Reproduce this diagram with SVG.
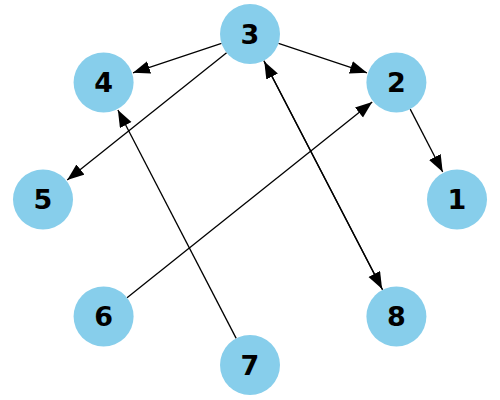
<svg xmlns="http://www.w3.org/2000/svg" width="500" height="400" viewBox="0 0 500 400">
<defs>
<marker id="ah" markerUnits="userSpaceOnUse" markerWidth="19" markerHeight="15" refX="17" refY="6.5" orient="auto">
<path d="M0,0 L17,6.5 L0,13 z" fill="#000"/>
</marker>
<style>
.e{stroke:#000;stroke-width:1.3;fill:none;marker-end:url(#ah)}
.n circle{fill:#87CEEB}
.n text{font-family:"DejaVu Sans",sans-serif;font-weight:bold;font-size:27px;fill:#000;text-anchor:middle;dominant-baseline:central}
</style>
</defs>
<rect width="500" height="400" fill="#fff"/>
<g id="edges">
<line class="e" x1="221.5" y1="43.4" x2="133.0" y2="72.8"/>
<line class="e" x1="278.5" y1="43.4" x2="367.0" y2="72.8"/>
<line class="e" x1="226.6" y1="52.7" x2="67.2" y2="180.1"/>
<line class="e" x1="410.2" y1="109.1" x2="442.7" y2="172.0"/>
<line class="e" x1="127.0" y1="297.8" x2="372.2" y2="101.9"/>
<line class="e" x1="236.2" y1="338.4" x2="117.9" y2="110.0"/>
<line class="e" x1="263.8" y1="60.6" x2="382.1" y2="289.0"/>
<line class="e" x1="382.6" y1="289.9" x2="264.3" y2="61.5"/>
</g>
<g id="n1" class="n"><circle cx="457" cy="199.5" r="30"/><text x="457" y="199.5">1</text></g>
<g id="n2" class="n"><circle cx="396.4" cy="82.5" r="30"/><text x="396.4" y="82.5">2</text></g>
<g id="n3" class="n"><circle cx="250" cy="34" r="30"/><text x="250" y="34">3</text></g>
<g id="n4" class="n"><circle cx="103.6" cy="82.5" r="30"/><text x="103.6" y="82.5">4</text></g>
<g id="n5" class="n"><circle cx="43" cy="199.5" r="30"/><text x="43" y="199.5">5</text></g>
<g id="n6" class="n"><circle cx="103.6" cy="316.5" r="30"/><text x="103.6" y="316.5">6</text></g>
<g id="n7" class="n"><circle cx="250" cy="365" r="30"/><text x="250" y="365">7</text></g>
<g id="n8" class="n"><circle cx="396.4" cy="316.5" r="30"/><text x="396.4" y="316.5">8</text></g>
</svg>
